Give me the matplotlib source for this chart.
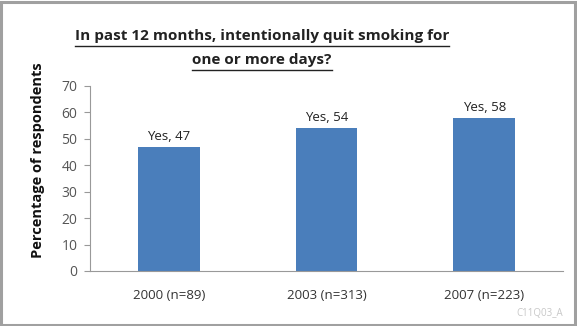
import matplotlib
matplotlib.use("Agg")
import matplotlib.pyplot as plt
from matplotlib.patches import Rectangle

categories = ["2000 (n=89)", "2003 (n=313)", "2007 (n=223)"]
values = [47, 54, 58]
yticks = [0, 10, 20, 30, 40, 50, 60, 70]

plt.rcParams['font.family'] = ['Open Sans', 'DejaVu Sans']

W, H = 577, 326
fig = plt.figure(figsize=(W / 100, H / 100), dpi=100)
fig.patch.set_facecolor("white")

# outer frame
fig.patches.append(Rectangle((0.002, 0.003), 0.994, 0.992, transform=fig.transFigure,
                             fill=False, edgecolor="#a0a0a0", linewidth=2.2))

ax = fig.add_axes([90 / W, 1 - 271 / H, (563 - 90) / W, (271 - 86) / H])
x = range(len(categories))
bars = ax.bar(x, values, width=0.39, color="#4a7ebb")
ax.set_xlim(-0.5, len(categories) - 0.5)
ax.set_ylim(0, 70)
ax.set_yticks(yticks)
ax.set_xticks(list(x))
ax.set_xticklabels(categories, fontsize=9.5, color="#333333")
ax.tick_params(axis="x", length=0, pad=13)
ax.tick_params(axis="y", direction="out", length=4, color="#999999",
               labelsize=10, labelcolor="#555555", pad=5)
for s in ["top", "right"]:
    ax.spines[s].set_visible(False)
ax.spines["left"].set_color("#999999")
ax.spines["bottom"].set_color("#999999")

for xi, v in zip(x, values):
    ax.text(xi, v + 1.5, f"Yes, {v}", ha="center", va="bottom", fontsize=9.5,
            color="#222222")

ax.set_ylabel("Percentage of respondents", fontsize=10.5, fontweight="bold",
              color="#111111")
ax.yaxis.set_label_coords(-45 / (563 - 90), 0.6)

title_lines = ["In past 12 months, intentionally quit smoking for", "one or more days?"]
title_y = [36, 60]
cx = 262 / W
texts = []
for line, yy in zip(title_lines, title_y):
    texts.append(fig.text(cx, 1 - yy / H, line, ha="center", va="center",
                          fontsize=11, fontweight="bold", color="#222222"))

# underline each title line beneath its text
fig.canvas.draw()
renderer = fig.canvas.get_renderer()
for t, yy in zip(texts, title_y):
    bb = t.get_window_extent(renderer).transformed(fig.transFigure.inverted())
    uy = 1 - (yy + 10) / H
    fig.add_artist(plt.Line2D([bb.x0, bb.x1], [uy, uy], color="#222222", lw=1))

fig.text(540 / W, 1 - 313 / H, "C11Q03_A", ha="center", va="center", fontsize=7,
         color="#c8c8c8")

fig.savefig("out.png", dpi=100)
